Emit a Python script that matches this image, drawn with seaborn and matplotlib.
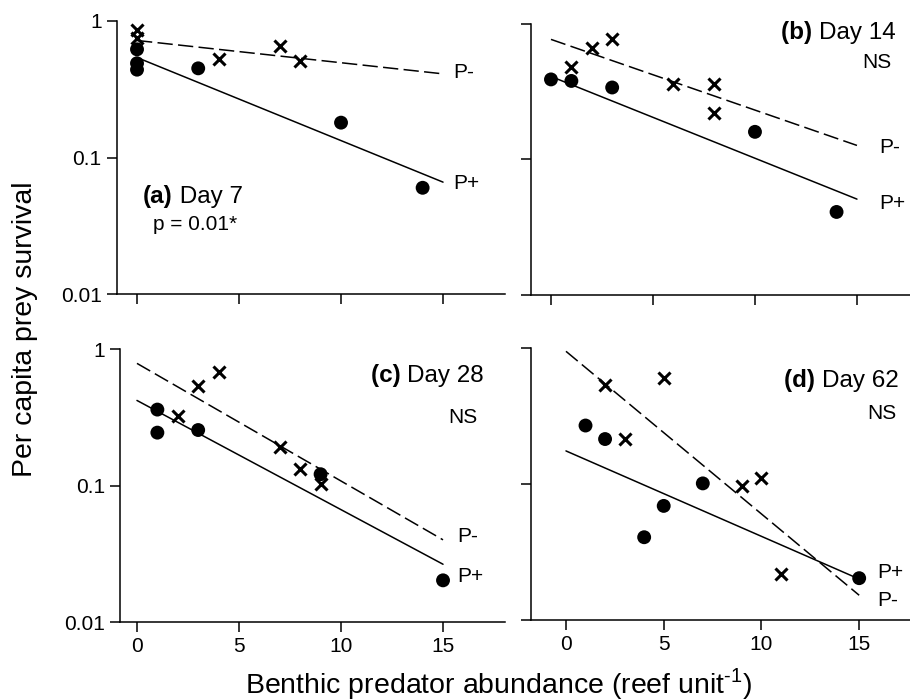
import matplotlib
matplotlib.use("Agg")
import matplotlib.pyplot as plt
from matplotlib.ticker import NullLocator
import seaborn as sns
import pandas as pd

# (a) Day 7
a_plus_x = [0, 0, 0, 3, 10, 14]
a_plus_y = [0.62, 0.49, 0.44, 0.45, 0.18, 0.06]
a_minus_x = [0, 0, 4, 7, 8]
a_minus_y = [0.86, 0.75, 0.53, 0.66, 0.51]
a_fit_plus = [0.54, 0.066]
a_fit_minus = [0.72, 0.41]

# (b) Day 14
b_plus_x = [0, 1, 3, 10, 14]
b_plus_y = [0.39, 0.38, 0.34, 0.16, 0.041]
b_minus_x = [1, 2, 3, 6, 8, 8]
b_minus_y = [0.48, 0.67, 0.78, 0.36, 0.36, 0.22]
b_fit_plus = [0.41, 0.051]
b_fit_minus = [0.77, 0.127]

# (c) Day 28
c_plus_x = [1, 1, 3, 9, 15]
c_plus_y = [0.36, 0.244, 0.255, 0.121, 0.0202]
c_minus_x = [2, 3, 4, 7, 8, 9]
c_minus_y = [0.325, 0.54, 0.68, 0.19, 0.132, 0.103]
c_fit_plus = [0.42, 0.0265]
c_fit_minus = [0.785, 0.040]

# (d) Day 62
d_plus_x = [1, 2, 4, 5, 7, 15]
d_plus_y = [0.269, 0.214, 0.0406, 0.069, 0.101, 0.0203]
d_minus_x = [2, 3, 5, 9, 10, 11]
d_minus_y = [0.537, 0.214, 0.60, 0.097, 0.110, 0.0218]
d_fit_plus = [0.175, 0.020]
d_fit_minus = [0.945, 0.0152]

fit_x = [0, 15]
panel_tags = ["(a)", "(b)", "(c)", "(d)"]
panel_days = ["Day 7", "Day 14", "Day 28", "Day 62"]
panel_stats = ["p = 0.01*", "NS", "NS", "NS"]

sns.set_style("ticks")
plt.rcParams["font.family"] = ["Liberation Sans", "DejaVu Sans"]
plt.rcParams["mathtext.fontset"] = "custom"
plt.rcParams["mathtext.rm"] = "Liberation Sans"
plt.rcParams["axes.linewidth"] = 1.1
plt.rcParams["xtick.major.width"] = 1.1
plt.rcParams["ytick.major.width"] = 1.1
for key in ["xtick.color", "ytick.color", "axes.edgecolor", "text.color",
            "axes.labelcolor", "xtick.labelcolor", "ytick.labelcolor"]:
    plt.rcParams[key] = "black"

panels = [
    dict(px=a_plus_x, py=a_plus_y, mx=a_minus_x, my=a_minus_y, fp=a_fit_plus, fm=a_fit_minus,
         rect=[0.1286, 0.58, 0.4264, 0.39], xlim=(-0.98, 18.04)),
    dict(px=b_plus_x, py=b_plus_y, mx=b_minus_x, my=b_minus_y, fp=b_fit_plus, fm=b_fit_minus,
         rect=[0.5835, 0.5786, 0.4165, 0.3871], xlim=(-0.98, 17.6)),
    dict(px=c_plus_x, py=c_plus_y, mx=c_minus_x, my=c_minus_y, fp=c_fit_plus, fm=c_fit_minus,
         rect=[0.1319, 0.1114, 0.4231, 0.39], xlim=(-0.83, 18.04)),
    dict(px=d_plus_x, py=d_plus_y, mx=d_minus_x, my=d_minus_y, fp=d_fit_plus, fm=d_fit_minus,
         rect=[0.5835, 0.1143, 0.4165, 0.3886], xlim=(-1.79, 17.6)),
]

fig = plt.figure(figsize=(9.1, 7), dpi=100)
axes = []
for i, p in enumerate(panels):
    ax = fig.add_axes(p["rect"])
    ax.set_yscale("log")
    fits = pd.DataFrame({"x": fit_x, "plus": p["fp"], "minus": p["fm"]})
    sns.lineplot(data=fits, x="x", y="minus", ax=ax, color="black", lw=1.1,
                 linestyle=(0, (10, 3.5)))
    sns.lineplot(data=fits, x="x", y="plus", ax=ax, color="black", lw=1.1)
    sns.scatterplot(x=p["px"], y=p["py"], ax=ax, marker="o", s=100,
                    color="black", edgecolor="none", zorder=3)
    sns.scatterplot(x=p["mx"], y=p["my"], ax=ax, marker="x", s=75,
                    color="black", linewidth=2.2, zorder=3)
    ax.set_xlim(*p["xlim"])
    ax.set_ylim(0.01, 1)
    ax.set_xticks([0, 5, 10, 15])
    ax.set_yticks([0.01, 0.1, 1])
    ax.set_yticklabels(["0.01", "0.1", "1"])
    ax.yaxis.set_minor_locator(NullLocator())
    ax.tick_params(axis="both", labelsize=15, length=7, pad=4)
    ax.set_xlabel("")
    ax.set_ylabel("")
    if i < 2:
        ax.tick_params(axis="x", labelbottom=False)
    if i % 2 == 1:
        ax.tick_params(axis="y", labelleft=False)
    sns.despine(ax=ax)
    axes.append(ax)

ax_a, ax_b, ax_c, ax_d = axes

# panel titles
t = ax_a.text(0.3, 0.0464, panel_tags[0], fontsize=17.5, fontweight="bold", va="baseline")
ax_a.annotate(" " + panel_days[0], xy=(1, 0), xycoords=t, va="bottom", fontsize=17.5)
ax_a.text(0.78, 0.0294, panel_stats[0], fontsize=15, va="baseline")

for ax, tag, day, stat, xr, yb, xs, ys in [
    (ax_b, panel_tags[1], panel_days[1], panel_stats[1], 16.9, 0.775, 16.7, 0.473),
    (ax_c, panel_tags[2], panel_days[2], panel_stats[2], 17.0, 0.573, 16.67, 0.287),
    (ax_d, panel_tags[3], panel_days[3], panel_stats[3], 17.0, 0.519, 16.9, 0.302),
]:
    t = ax.text(xr, yb, day, fontsize=17.5, ha="right", va="baseline")
    ax.annotate(tag + " ", xy=(0, 0), xycoords=t, ha="right", va="bottom",
                fontsize=17.5, fontweight="bold")
    ax.text(xs, ys, stat, fontsize=15, ha="right", va="baseline")

# line labels
for ax, xl, yp, ym in [
    (ax_a, 15.5, 0.065, 0.416),
    (ax_b, 16.1, 0.047, 0.1216),
    (ax_c, 15.7, 0.0214, 0.042),
    (ax_d, 15.9, 0.02253, 0.0138),
]:
    ax.text(xl, yp, "P+", fontsize=15, va="center", ha="left")
    ax.text(xl, ym, "P-", fontsize=15, va="center", ha="left")

fig.text(25 / 910, 1 - 329 / 700, "Per capita prey survival", rotation=90,
         ha="center", va="center", fontsize=20.5)
fig.text(499 / 910, 1 - 693 / 700, r"Benthic predator abundance (reef unit$^{\text{-1}}$)",
         ha="center", va="baseline", fontsize=20.5)

fig.savefig("out.png", dpi=100)
